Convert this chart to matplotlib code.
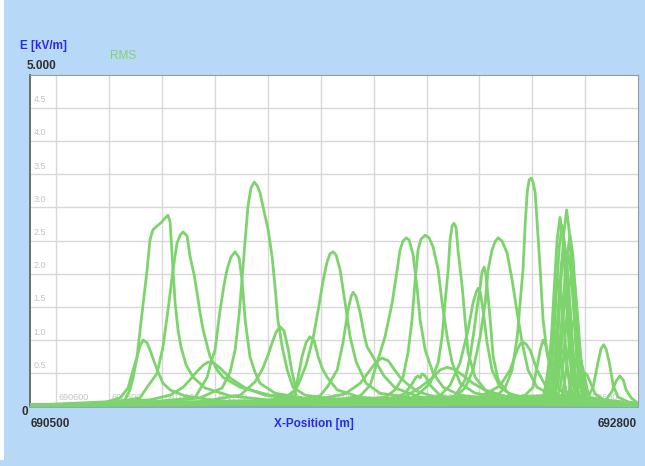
import matplotlib
matplotlib.use("Agg")
import matplotlib.pyplot as plt
from matplotlib.patches import Rectangle

plt.rcParams['font.family'] = ['Liberation Sans', 'DejaVu Sans']

# ---------------- data (x in m, E in kV/m) ----------------
a_x = [690500, 690765, 690841, 690871, 690890, 690905, 690916, 690928, 690943, 690954, 690981, 691003, 691030, 691086, 691219, 691522, 692800]
a_y = [0.02, 0.04, 0.13, 0.28, 0.55, 0.75, 0.91, 1.00, 0.96, 0.85, 0.55, 0.35, 0.25, 0.16, 0.08, 0.04, 0.02]

b_x = [690500, 690803, 690859, 690878, 690890, 690905, 690924, 690943, 690954, 690965, 690981, 690999, 691011, 691022, 691030, 691037, 691049, 691060, 691071, 691090, 691117, 691162, 691257, 691446, 691900, 692800]
b_y = [0.02, 0.05, 0.10, 0.25, 0.43, 0.75, 1.41, 2.06, 2.51, 2.66, 2.72, 2.78, 2.84, 2.88, 2.78, 2.31, 1.56, 1.15, 0.90, 0.63, 0.44, 0.28, 0.16, 0.08, 0.04, 0.02]

c_x = [690500, 690803, 690916, 690943, 690981, 691003, 691022, 691041, 691056, 691068, 691079, 691094, 691105, 691121, 691132, 691143, 691155, 691181, 691208, 691230, 691295, 691408, 691597, 692089, 692800]
c_y = [0.02, 0.05, 0.13, 0.29, 0.50, 0.90, 1.45, 2.06, 2.46, 2.58, 2.63, 2.57, 2.27, 1.98, 1.71, 1.42, 1.15, 0.75, 0.55, 0.44, 0.29, 0.17, 0.10, 0.04, 0.02]

d_x = [690500, 690614, 690954, 691030, 691079, 691105, 691132, 691155, 691174, 691193, 691219, 691257, 691314, 691389, 691522, 691900, 692800]
d_y = [0.02, 0.04, 0.10, 0.17, 0.29, 0.40, 0.53, 0.62, 0.67, 0.66, 0.58, 0.43, 0.28, 0.17, 0.10, 0.05, 0.02]

e_x = [690500, 690954, 691124, 691170, 691185, 691200, 691219, 691234, 691245, 691260, 691276, 691291, 691302, 691314, 691332, 691351, 691370, 691427, 691559, 691976, 692800]
e_y = [0.02, 0.07, 0.13, 0.44, 0.67, 0.85, 1.45, 1.83, 2.06, 2.25, 2.33, 2.24, 1.91, 1.30, 0.75, 0.52, 0.35, 0.20, 0.11, 0.05, 0.02]

f_x = [690500, 690954, 691143, 691227, 691257, 691276, 691291, 691302, 691314, 691325, 691336, 691348, 691359, 691370, 691382, 691401, 691416, 691427, 691438, 691454, 691473, 691495, 691541, 691673, 692089, 692800]
f_y = [0.02, 0.05, 0.13, 0.28, 0.52, 0.85, 1.38, 1.91, 2.51, 3.03, 3.29, 3.38, 3.33, 3.22, 3.00, 2.66, 2.25, 1.80, 1.30, 0.90, 0.55, 0.29, 0.17, 0.10, 0.04, 0.02]

g_x = [690500, 691143, 691295, 691351, 691378, 691401, 691416, 691431, 691446, 691461, 691476, 691491, 691503, 691506, 691900, 692800]
g_y = [0.02, 0.07, 0.17, 0.37, 0.55, 0.78, 0.96, 1.12, 1.20, 1.14, 0.88, 0.52, 0.32, 0.07, 0.04, 0.02]

h_x = [690500, 691332, 691465, 691503, 691514, 691529, 691544, 691559, 691575, 691590, 691605, 691624, 691662, 691749, 691976, 692800]
h_y = [0.02, 0.05, 0.13, 0.25, 0.44, 0.75, 0.96, 1.05, 0.99, 0.75, 0.58, 0.44, 0.25, 0.14, 0.07, 0.02]

i_x = [690500, 691332, 691484, 691514, 691544, 691571, 691590, 691609, 691624, 691635, 691647, 691658, 691673, 691692, 691711, 691734, 691771, 691824, 691976, 692278, 692800]
i_y = [0.02, 0.05, 0.14, 0.32, 0.62, 1.03, 1.45, 1.90, 2.18, 2.30, 2.33, 2.28, 2.06, 1.56, 1.05, 0.67, 0.35, 0.20, 0.11, 0.05, 0.02]

j_x = [690500, 691446, 691597, 691624, 691662, 691684, 691703, 691715, 691722, 691733, 691749, 691764, 691775, 691790, 691809, 691839, 691881, 691976, 692203, 692800]
j_y = [0.02, 0.05, 0.16, 0.29, 0.55, 0.96, 1.45, 1.66, 1.72, 1.66, 1.41, 1.08, 0.90, 0.80, 0.67, 0.46, 0.28, 0.14, 0.07, 0.02]

k_x = [690500, 691522, 691692, 691749, 691787, 691809, 691832, 691855, 691874, 691900, 691927, 691964, 692032, 692165, 692800]
k_y = [0.02, 0.05, 0.19, 0.35, 0.55, 0.67, 0.73, 0.69, 0.58, 0.44, 0.34, 0.23, 0.14, 0.08, 0.02]

l_x = [690500, 691597, 691749, 691787, 691813, 691843, 691870, 691889, 691900, 691911, 691923, 691934, 691949, 691964, 691976, 691995, 692025, 692063, 692127, 692278, 692800]
l_y = [0.02, 0.05, 0.16, 0.32, 0.66, 1.05, 1.56, 2.06, 2.36, 2.49, 2.54, 2.51, 2.29, 1.80, 1.30, 0.85, 0.50, 0.29, 0.17, 0.10, 0.04]

m_x = [690500, 691673, 691843, 691881, 691911, 691930, 691945, 691957, 691968, 691979, 691995, 692010, 692025, 692044, 692059, 692078, 692097, 692127, 692184, 692316, 692800]
m_y = [0.02, 0.05, 0.14, 0.25, 0.44, 0.81, 1.30, 1.90, 2.36, 2.52, 2.58, 2.54, 2.40, 2.06, 1.56, 1.05, 0.66, 0.35, 0.20, 0.11, 0.04]

n_x = [690500, 691881, 691919, 691945, 691960, 691968, 691976, 691983, 691995, 692014, 692051, 692127, 692800]
n_y = [0.02, 0.13, 0.20, 0.34, 0.44, 0.46, 0.43, 0.49, 0.46, 0.32, 0.17, 0.08, 0.02]

o_x = [690500, 691787, 691957, 692014, 692044, 692059, 692070, 692082, 692089, 692097, 692104, 692112, 692119, 692135, 692146, 692157, 692184, 692222, 692316, 692800]
o_y = [0.02, 0.05, 0.14, 0.35, 0.66, 1.05, 1.56, 2.06, 2.51, 2.72, 2.76, 2.69, 2.36, 1.80, 1.30, 0.81, 0.44, 0.25, 0.13, 0.04]

p_x = [690500, 691900, 691976, 692025, 692051, 692078, 692104, 692127, 692176, 692241, 692354, 692800]
p_y = [0.02, 0.10, 0.29, 0.44, 0.55, 0.59, 0.56, 0.50, 0.35, 0.20, 0.10, 0.02]

q_x = [690500, 691976, 692108, 692146, 692165, 692180, 692191, 692203, 692210, 692218, 692225, 692233, 692241, 692252, 692271, 692309, 692392, 692800]
q_y = [0.02, 0.05, 0.16, 0.40, 0.76, 1.15, 1.48, 1.80, 2.03, 2.10, 1.97, 1.65, 1.30, 0.75, 0.40, 0.20, 0.11, 0.04]

r_x = [690500, 691900, 692051, 692089, 692127, 692157, 692176, 692188, 692195, 692203, 692214, 692229, 692248, 692278, 692335, 692468, 692800]
r_y = [0.02, 0.05, 0.16, 0.32, 0.66, 1.15, 1.56, 1.72, 1.78, 1.73, 1.45, 0.96, 0.55, 0.29, 0.14, 0.07, 0.02]

s_x = [690500, 691976, 692108, 692146, 692176, 692203, 692222, 692233, 692248, 692260, 692271, 692286, 692305, 692324, 692343, 692362, 692384, 692418, 692487, 692657, 692800]
s_y = [0.02, 0.05, 0.14, 0.28, 0.55, 1.05, 1.56, 2.06, 2.36, 2.49, 2.54, 2.49, 2.31, 1.90, 1.41, 0.96, 0.55, 0.29, 0.14, 0.07, 0.04]

t_x = [690500, 692165, 692278, 692316, 692343, 692354, 692365, 692377, 692392, 692418, 692449, 692505, 692657, 692800]
t_y = [0.02, 0.07, 0.31, 0.55, 0.85, 0.94, 0.97, 0.94, 0.85, 0.55, 0.32, 0.16, 0.07, 0.02]

u_x = [690500, 692089, 692259, 692297, 692324, 692343, 692354, 692365, 692373, 692381, 692388, 692396, 692403, 692411, 692422, 692430, 692441, 692456, 692475, 692505, 692581, 692800]
u_y = [0.02, 0.05, 0.14, 0.28, 0.55, 1.05, 1.56, 2.06, 2.73, 3.23, 3.41, 3.44, 3.38, 3.22, 2.55, 2.06, 1.30, 0.81, 0.44, 0.25, 0.13, 0.05]

v_x = [690500, 692278, 692373, 692403, 692418, 692430, 692441, 692452, 692468, 692487, 692524, 692619, 692800]
v_y = [0.02, 0.07, 0.17, 0.29, 0.59, 0.85, 1.00, 0.91, 0.62, 0.35, 0.16, 0.07, 0.02]

# narrow cluster near 692500
c01_x = [690500, 692444, 692460, 692471, 692482, 692494, 692505, 692516, 692528, 692539, 692550, 692566, 692800]
c01_y = [0.02, 0.14, 0.40, 0.91, 1.71, 2.51, 2.85, 2.51, 1.71, 0.91, 0.40, 0.14, 0.02]
c02_x = [690500, 692469, 692485, 692496, 692507, 692519, 692530, 692541, 692553, 692564, 692575, 692591, 692800]
c02_y = [0.02, 0.15, 0.41, 0.95, 1.78, 2.60, 2.96, 2.60, 1.78, 0.95, 0.41, 0.15, 0.02]
c03_x = [690500, 692452, 692468, 692479, 692490, 692502, 692513, 692524, 692536, 692547, 692558, 692574, 692800]
c03_y = [0.02, 0.14, 0.38, 0.87, 1.64, 2.40, 2.73, 2.40, 1.64, 0.87, 0.38, 0.14, 0.02]
c04_x = [690500, 692482, 692498, 692509, 692520, 692532, 692543, 692554, 692566, 692577, 692588, 692604, 692800]
c04_y = [0.02, 0.13, 0.36, 0.83, 1.55, 2.27, 2.58, 2.27, 1.55, 0.83, 0.36, 0.13, 0.02]
c05_x = [690500, 692460, 692476, 692487, 692498, 692510, 692521, 692532, 692544, 692555, 692566, 692582, 692800]
c05_y = [0.02, 0.12, 0.34, 0.78, 1.46, 2.14, 2.43, 2.14, 1.46, 0.78, 0.34, 0.12, 0.02]
c06_x = [690500, 692475, 692491, 692502, 692513, 692525, 692536, 692547, 692559, 692570, 692581, 692597, 692800]
c06_y = [0.02, 0.11, 0.32, 0.73, 1.37, 2.01, 2.28, 2.01, 1.37, 0.73, 0.32, 0.11, 0.02]
c07_x = [690500, 692490, 692506, 692517, 692528, 692540, 692551, 692562, 692574, 692585, 692596, 692612, 692800]
c07_y = [0.02, 0.10, 0.29, 0.66, 1.24, 1.81, 2.06, 1.81, 1.24, 0.66, 0.29, 0.10, 0.02]
c08_x = [690500, 692437, 692453, 692464, 692475, 692487, 692498, 692509, 692521, 692532, 692543, 692559, 692800]
c08_y = [0.02, 0.10, 0.27, 0.61, 1.14, 1.67, 1.90, 1.67, 1.14, 0.61, 0.27, 0.10, 0.02]
c09_x = [690500, 692467, 692483, 692494, 692505, 692517, 692528, 692539, 692551, 692562, 692573, 692589, 692800]
c09_y = [0.02, 0.08, 0.22, 0.51, 0.96, 1.41, 1.60, 1.41, 0.96, 0.51, 0.22, 0.08, 0.02]
c10_x = [690500, 692497, 692513, 692524, 692535, 692547, 692558, 692569, 692581, 692592, 692603, 692619, 692800]
c10_y = [0.02, 0.07, 0.18, 0.42, 0.78, 1.14, 1.30, 1.14, 0.78, 0.42, 0.18, 0.07, 0.02]
c11_x = [690500, 692426, 692442, 692453, 692464, 692476, 692487, 692498, 692510, 692521, 692532, 692548, 692800]
c11_y = [0.02, 0.06, 0.16, 0.37, 0.69, 1.01, 1.15, 1.01, 0.69, 0.37, 0.16, 0.06, 0.02]
c12_x = [690500, 692452, 692468, 692479, 692490, 692502, 692513, 692524, 692536, 692547, 692558, 692574, 692800]
c12_y = [0.02, 0.04, 0.12, 0.27, 0.51, 0.75, 0.85, 0.75, 0.51, 0.27, 0.12, 0.04, 0.02]
c13_x = [690500, 692513, 692529, 692540, 692551, 692563, 692574, 692585, 692597, 692608, 692619, 692635, 692800]
c13_y = [0.02, 0.04, 0.11, 0.25, 0.47, 0.69, 0.78, 0.69, 0.47, 0.25, 0.11, 0.04, 0.02]

w_x = [690500, 692562, 692581, 692593, 692600, 692608, 692619, 692638, 692676, 692800]
w_y = [0.02, 0.17, 0.35, 0.46, 0.50, 0.47, 0.37, 0.19, 0.08, 0.02]

x_x = [690500, 692600, 692630, 692649, 692660, 692670, 692679, 692691, 692706, 692725, 692763, 692800]
x_y = [0.02, 0.07, 0.29, 0.67, 0.87, 0.93, 0.87, 0.67, 0.32, 0.14, 0.07, 0.03]

y_x = [690500, 692676, 692702, 692717, 692731, 692744, 692755, 692774, 692793, 692800]
y_y = [0.02, 0.08, 0.23, 0.38, 0.46, 0.40, 0.25, 0.13, 0.07, 0.04]

curves = [(a_x, a_y), (b_x, b_y), (c_x, c_y), (d_x, d_y), (e_x, e_y), (f_x, f_y),
          (g_x, g_y), (h_x, h_y), (i_x, i_y), (j_x, j_y), (k_x, k_y), (l_x, l_y),
          (m_x, m_y), (n_x, n_y), (o_x, o_y), (p_x, p_y), (q_x, q_y), (r_x, r_y),
          (s_x, s_y), (t_x, t_y), (u_x, u_y), (v_x, v_y),
          (c01_x, c01_y), (c02_x, c02_y), (c03_x, c03_y), (c04_x, c04_y), (c05_x, c05_y),
          (c06_x, c06_y), (c07_x, c07_y), (c08_x, c08_y), (c09_x, c09_y), (c10_x, c10_y),
          (c11_x, c11_y), (c12_x, c12_y), (c13_x, c13_y),
          (w_x, w_y), (x_x, x_y), (y_x, y_y)]

x_min, x_max = 690500, 692800
y_min, y_max = 0, 5
y_grid = [0.5, 1.0, 1.5, 2.0, 2.5, 3.0, 3.5, 4.0, 4.5]
x_grid = [690600, 690800, 691000, 691200, 691400, 691600, 691800, 692000, 692200, 692400, 692600]

# ---------------- figure ----------------
bg = '#b8d8f8'
line_col = '#7dd46d'
fig = plt.figure(figsize=(6.45, 4.66), dpi=100, facecolor=bg)
fig.patches.append(Rectangle((0, 0.012), 0.0065, 0.988, transform=fig.transFigure,
                             facecolor='white', edgecolor='none', zorder=-1))
ax = fig.add_axes([30 / 645, 59.5 / 466, 608 / 645, 332 / 466])
ax.set_facecolor('white')
ax.set_xlim(x_min, x_max)
ax.set_ylim(y_min, y_max)

for gy in y_grid:
    ax.axhline(gy, color='#d8d8d8', lw=1.0, zorder=1)
    ax.annotate(f'{gy:.1f}', xy=(x_min, gy), xytext=(2.5, 2.5), textcoords='offset points',
                fontsize=6.5, color='#c4c4c4', ha='left', va='bottom')
for gx in x_grid:
    ax.axvline(gx, color='#d8d8d8', lw=1.0, zorder=1)
    ax.annotate(f'{gx}', xy=(gx, 0), xytext=(1.5, 3.0), textcoords='offset points',
                fontsize=6.5, color='#c4c4c4', ha='left', va='bottom')

for xs, ys in curves:
    ax.plot(xs, ys, color=line_col, lw=2.0, solid_joinstyle='round', zorder=3)

ax.set_xticks([])
ax.set_yticks([])
for side in ['top', 'right']:
    ax.spines[side].set_color('#9a9a9a')
    ax.spines[side].set_linewidth(0.8)
ax.spines['left'].set_color('#6e6e6e')
ax.spines['left'].set_linewidth(1.4)
ax.spines['bottom'].set_color('#8aa6c8')
ax.spines['bottom'].set_linewidth(1.4)

def ftext(px, py, s, **kw):
    fig.text(px / 645, 1 - py / 466, s, **kw)

ftext(20, 46, 'E [kV/m]', fontsize=8.5, fontweight='bold', color='#2a2ae6', ha='left', va='center')
ftext(110, 56, 'RMS', fontsize=8.5, color='#7dd46d', ha='left', va='center')
ftext(27, 66, '5.000', fontsize=8.5, fontweight='bold', color='#303030', ha='left', va='center')
ftext(22, 412, '0', fontsize=8.5, fontweight='bold', color='#303030', ha='left', va='center')
ftext(31, 424, '690500', fontsize=8.5, fontweight='bold', color='#303030', ha='left', va='center')
ftext(637, 424, '692800', fontsize=8.5, fontweight='bold', color='#303030', ha='right', va='center')
ftext(314, 424, 'X-Position [m]', fontsize=8.5, fontweight='bold', color='#2a2ae6', ha='center', va='center')

fig.savefig('out.png', dpi=100, facecolor=bg)
